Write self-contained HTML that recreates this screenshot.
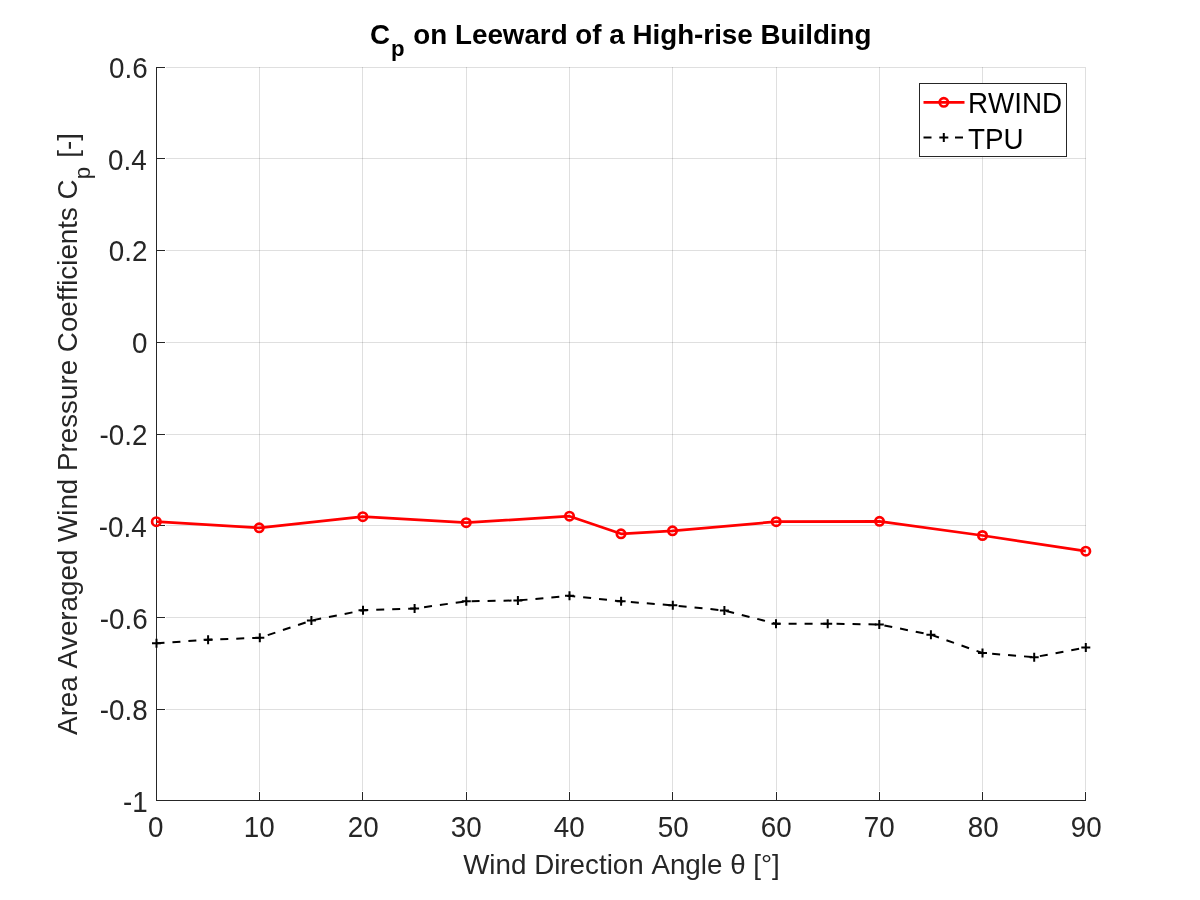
<!DOCTYPE html>
<html lang="en"><head><meta charset="utf-8"><title>Cp on Leeward of a High-rise Building</title>
<style>html,body{margin:0;padding:0;background:#fff;}body{width:1200px;height:900px;overflow:hidden;}svg{display:block;}text{font-kerning:none;font-family:"Liberation Sans",Arial,Helvetica,sans-serif;font-size:27.78px;fill:#262626;}.t{fill:#000;font-weight:bold;}.lg{fill:#000;}</style></head><body>
<svg width="1200" height="900" viewBox="0 0 1200 900">
<rect x="0" y="0" width="1200" height="900" fill="#ffffff"/>
<g fill="#262626" fill-opacity="0.15" shape-rendering="crispEdges">
<rect x="259" y="67" width="1" height="724"/>
<rect x="362" y="67" width="1" height="724"/>
<rect x="466" y="67" width="1" height="724"/>
<rect x="569" y="67" width="1" height="724"/>
<rect x="672" y="67" width="1" height="724"/>
<rect x="776" y="67" width="1" height="724"/>
<rect x="879" y="67" width="1" height="724"/>
<rect x="982" y="67" width="1" height="724"/>
<rect x="1085" y="67" width="1" height="724"/>
<rect x="166" y="67" width="919" height="1"/>
<rect x="166" y="158" width="920" height="1"/>
<rect x="166" y="250" width="920" height="1"/>
<rect x="166" y="342" width="920" height="1"/>
<rect x="166" y="434" width="920" height="1"/>
<rect x="166" y="525" width="920" height="1"/>
<rect x="166" y="617" width="920" height="1"/>
<rect x="166" y="709" width="920" height="1"/>
</g>
<g fill="#262626" shape-rendering="crispEdges">
<rect x="156" y="67" width="1" height="734"/>
<rect x="156" y="800" width="930" height="1"/>
<rect x="259" y="792" width="1" height="8"/>
<rect x="362" y="792" width="1" height="8"/>
<rect x="466" y="792" width="1" height="8"/>
<rect x="569" y="792" width="1" height="8"/>
<rect x="672" y="792" width="1" height="8"/>
<rect x="776" y="792" width="1" height="8"/>
<rect x="879" y="792" width="1" height="8"/>
<rect x="982" y="792" width="1" height="8"/>
<rect x="1085" y="792" width="1" height="8"/>
<rect x="157" y="67" width="8" height="1"/>
<rect x="157" y="158" width="8" height="1"/>
<rect x="157" y="250" width="8" height="1"/>
<rect x="157" y="342" width="8" height="1"/>
<rect x="157" y="434" width="8" height="1"/>
<rect x="157" y="525" width="8" height="1"/>
<rect x="157" y="617" width="8" height="1"/>
<rect x="157" y="709" width="8" height="1"/>
</g>
<g text-anchor="middle">
<text transform="translate(155.7,836.8) scale(1,1.04)">0</text>
<text transform="translate(259.3,836.8) scale(1,1.04)">10</text>
<text transform="translate(363.3,836.8) scale(1,1.04)">20</text>
<text transform="translate(466.3,836.8) scale(1,1.04)">30</text>
<text transform="translate(569.3,836.8) scale(1,1.04)">40</text>
<text transform="translate(673.3,836.8) scale(1,1.04)">50</text>
<text transform="translate(776.3,836.8) scale(1,1.04)">60</text>
<text transform="translate(879.3,836.8) scale(1,1.04)">70</text>
<text transform="translate(983.3,836.8) scale(1,1.04)">80</text>
<text transform="translate(1086.3,836.8) scale(1,1.04)">90</text>
</g>
<g text-anchor="end">
<text transform="translate(147.7,78.2) scale(1,1.04)">0.6</text>
<text transform="translate(146.7,169.9) scale(1,1.04)">0.4</text>
<text transform="translate(147.4,261.0) scale(1,1.04)">0.2</text>
<text transform="translate(147.4,353.0) scale(1,1.04)">0</text>
<text transform="translate(147.4,445.0) scale(1,1.04)">-0.2</text>
<text transform="translate(146.7,536.9) scale(1,1.04)">-0.4</text>
<text transform="translate(147.7,628.9) scale(1,1.04)">-0.6</text>
<text transform="translate(147.7,720.0) scale(1,1.04)">-0.8</text>
<text transform="translate(147.7,811.9) scale(1,1.04)">-1</text>
</g>
<text x="621.5" y="873.7" text-anchor="middle">Wind Direction Angle θ [°]</text>
<text transform="translate(77,434) rotate(-90)" text-anchor="middle">Area Averaged Wind Pressure Coefficients C<tspan dx="0" dy="12.5" font-size="22.2">p</tspan><tspan dx="1.5" dy="-12.5"> [-]</tspan></text>
<text class="t" x="370" y="44">C<tspan dx="1" dy="11.5" font-size="22.2">p</tspan><tspan dx="1" dy="-11.5"> on Leeward of a High-rise Building</tspan></text>
<polyline fill="none" stroke="#000" stroke-width="2" stroke-dasharray="8 7.98" points="156.5,643.3 208.1,639.7 259.8,637.8 311.4,620.5 363.0,610.3 414.6,608.5 466.3,601.3 517.9,600.5 569.5,595.8 621.1,601.3 672.8,605.3 724.4,610.5 776.0,623.7 827.7,623.7 879.3,624.5 930.9,634.7 982.5,653.0 1034.2,657.2 1085.8,647.5"/>
<g stroke="#000" stroke-width="2" fill="none">
<path d="M152.0 643.3h9M156.5 638.8v9"/>
<path d="M203.6 639.7h9M208.1 635.2v9"/>
<path d="M255.3 637.8h9M259.8 633.3v9"/>
<path d="M306.9 620.5h9M311.4 616.0v9"/>
<path d="M358.5 610.3h9M363.0 605.8v9"/>
<path d="M410.1 608.5h9M414.6 604.0v9"/>
<path d="M461.8 601.3h9M466.3 596.8v9"/>
<path d="M513.4 600.5h9M517.9 596.0v9"/>
<path d="M565.0 595.8h9M569.5 591.3v9"/>
<path d="M616.6 601.3h9M621.1 596.8v9"/>
<path d="M668.3 605.3h9M672.8 600.8v9"/>
<path d="M719.9 610.5h9M724.4 606.0v9"/>
<path d="M771.5 623.7h9M776.0 619.2v9"/>
<path d="M823.2 623.7h9M827.7 619.2v9"/>
<path d="M874.8 624.5h9M879.3 620.0v9"/>
<path d="M926.4 634.7h9M930.9 630.2v9"/>
<path d="M978.0 653.0h9M982.5 648.5v9"/>
<path d="M1029.7 657.2h9M1034.2 652.7v9"/>
<path d="M1081.3 647.5h9M1085.8 643.0v9"/>
</g>
<polyline fill="none" stroke="#ff0000" stroke-width="2.7" stroke-linejoin="round" points="156.3,521.7 259.2,527.8 362.8,516.7 466.2,522.7 569.5,516.2 621.0,533.8 672.5,530.8 776.2,521.7 879.5,521.3 982.5,535.5 1085.8,551.2"/>
<g stroke="#ff0000" stroke-width="2.7" fill="none">
<circle cx="156.3" cy="521.7" r="4.2"/>
<circle cx="259.2" cy="527.8" r="4.2"/>
<circle cx="362.8" cy="516.7" r="4.2"/>
<circle cx="466.2" cy="522.7" r="4.2"/>
<circle cx="569.5" cy="516.2" r="4.2"/>
<circle cx="621.0" cy="533.8" r="4.2"/>
<circle cx="672.5" cy="530.8" r="4.2"/>
<circle cx="776.2" cy="521.7" r="4.2"/>
<circle cx="879.5" cy="521.3" r="4.2"/>
<circle cx="982.5" cy="535.5" r="4.2"/>
<circle cx="1085.8" cy="551.2" r="4.2"/>
</g>
<rect x="919.5" y="83.5" width="147" height="73" fill="#fff" stroke="#262626" stroke-width="1" shape-rendering="crispEdges"/>
<path d="M923.5 102.3H964.5" stroke="#ff0000" stroke-width="2.8" fill="none"/>
<circle cx="943.8" cy="102.3" r="4.2" stroke="#ff0000" stroke-width="2.7" fill="none"/>
<text class="lg" transform="translate(968,113) scale(1,1.04)">RWIND</text>
<path d="M923.5 137.4h8M955 137.4h8M939.3 137.4h9M943.8 132.9v9" stroke="#000" stroke-width="2" fill="none"/>
<text class="lg" transform="translate(968,148.8) scale(1,1.04)">TPU</text>
</svg></body></html>
